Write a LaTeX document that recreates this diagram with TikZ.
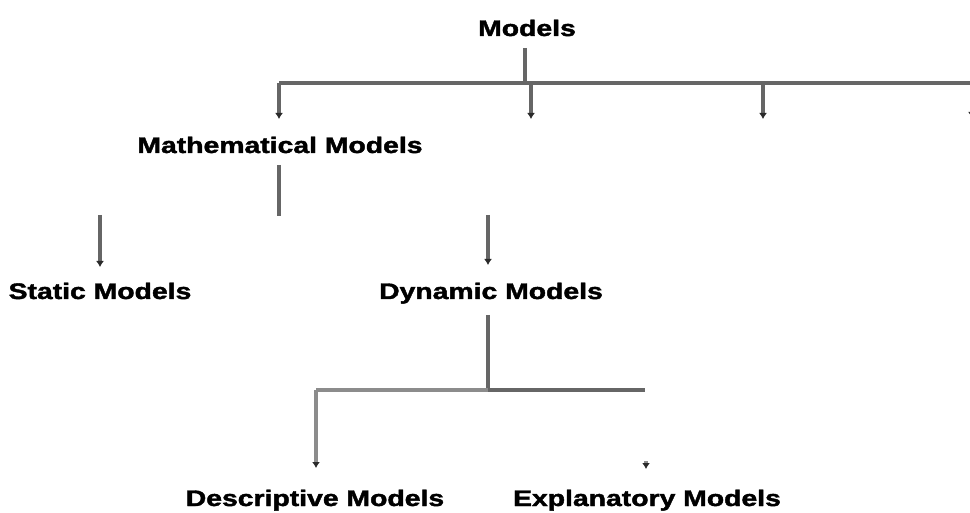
\documentclass[tikz,border=0pt]{standalone}
\usepackage{fontspec}
\setmainfont{Liberation Sans}
\newfontfamily\heavyfont[FakeBold=1.6]{Liberation Sans Bold}
\usetikzlibrary{arrows.meta}
\definecolor{lnc}{HTML}{666666}
\definecolor{lnl}{HTML}{8C8C8C}
\definecolor{tipc}{HTML}{2A2A2A}
\tikzset{
  lbl/.style={font=\fontsize{22.5}{26}\heavyfont, anchor=base, inner sep=0pt, xscale=1.26},
  ln/.style={draw=lnc, line width=3.6pt},
  lnlight/.style={draw=lnl, line width=3.2pt},
  tipped/.style={-{Latex[length=6pt,width=8pt,color=tipc]}},
}
\begin{document}
\begin{tikzpicture}[x=1pt,y=-1pt]
\useasboundingbox (0,0) rectangle (970,513);
% nodes
\node[lbl] (models) at (527,36) {Models};
\node[lbl] (math) at (280,153) {Mathematical Models};
\node[lbl] (static) at (100,299) {Static Models};
\node[lbl] (dyn) at (491,299) {Dynamic Models};
\node[lbl] (desc) at (315,506) {Descriptive Models};
\node[lbl] (expl) at (647,506) {Explanatory Models};
% junction points
\coordinate (m0) at (525,48);
\coordinate (j0) at (525,83);
\coordinate (bL) at (279,83);
\coordinate (bR) at (975,83);
\coordinate (b2) at (531,83);
\coordinate (b3) at (763,83);
\coordinate (t1) at (279,119);
\coordinate (t2) at (531,119);
\coordinate (t3) at (763,119);
\coordinate (t4a) at (972,110);
\coordinate (t4) at (972,118);
\coordinate (ma0) at (279,165);
\coordinate (ma1) at (279,216);
\coordinate (s0) at (100,215);
\coordinate (s1) at (100,267);
\coordinate (d0) at (488,215);
\coordinate (d1) at (488,265);
\coordinate (dd0) at (488,315);
\coordinate (dd1) at (488,390);
\coordinate (cL) at (316,390);
\coordinate (cR) at (645,390);
\coordinate (c1) at (316,468);
\coordinate (e0) at (646,461);
\coordinate (e1) at (646,469);
% connectors
\draw[ln] (m0) -- (j0);
\draw[ln] (bL) -- (bR);
\draw[ln,tipped] (bL) -- (t1);
\draw[ln,tipped] (b2) -- (t2);
\draw[ln,tipped] (b3) -- (t3);
\draw[ln,tipped] (t4a) -- (t4);
\draw[ln] (ma0) -- (ma1);
\draw[ln,tipped] (s0) -- (s1);
\draw[ln,tipped] (d0) -- (d1);
\draw[ln] (dd0) -- (dd1);
\draw[ln] (dd1) -- (cR);
\draw[lnlight] (dd1) -- (cL);
\draw[lnlight,tipped] (cL) -- (c1);
\draw[lnlight,tipped] (e0) -- (e1);
\end{tikzpicture}
\end{document}
